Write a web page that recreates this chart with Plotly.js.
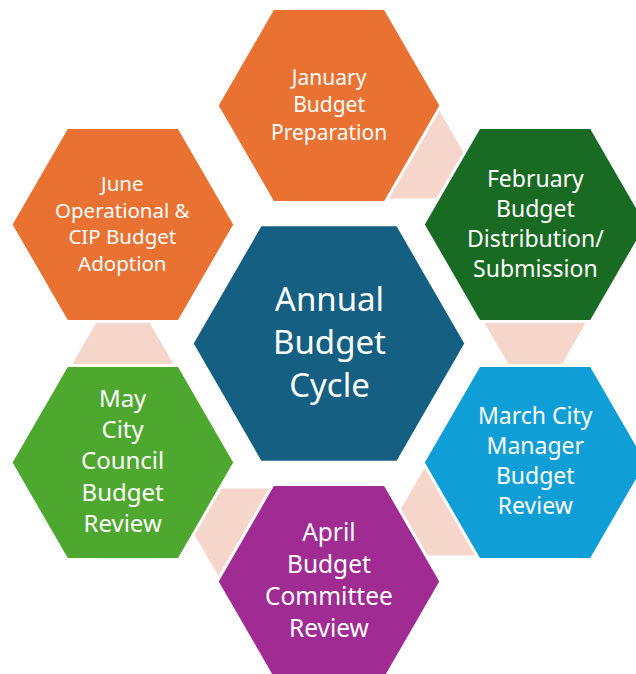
<!DOCTYPE html>
<html>
<head>
<meta charset="utf-8">
<script src="https://cdn.plot.ly/plotly-3.0.1.min.js"></script>
<style>html,body{margin:0;padding:0;background:#fff;}#chart{width:636px;height:674px;}</style>
</head>
<body>
<div id="chart"></div>
<script>
// ---- data ----
const centerLines = ['Annual', 'Budget', 'Cycle'];
const stepMonths = ['January', 'February', 'March', 'April', 'May', 'June'];
const stepLines = [
  ['January', 'Budget', 'Preparation'],
  ['February', 'Budget', 'Distribution/', 'Submission'],
  ['March City', 'Manager', 'Budget', 'Review'],
  ['April', 'Budget', 'Committee', 'Review'],
  ['May', 'City', 'Council', 'Budget', 'Review'],
  ['June', 'Operational &', 'CIP Budget', 'Adoption']
];
// transitions drawn between consecutive steps (clockwise), from -> to
const transitions = [[0, 1], [1, 2], [2, 3], [3, 4], [4, 5]];

// ---- styles / geometry ----
const stepColors = ['#E97132', '#196B24', '#0F9ED5', '#A02B93', '#4EA72E', '#E97132'];
const centerColor = '#156082';
const linkColor = '#F6D5CB';
const stepFont = [21, 23, 23, 24.5, 24, 20.5];
const stepShift = [-1.5, -1.5, -2.5, -2, -3, -2];
const centerFont = 33;
const W = 636, H = 674;
const C = [329, 343.5];
const ringDist = 238;
const stepAngles = [90, 30, -30, -90, -150, 150];
const stepR = 112, centerR = 137, border = 3;
const apexDist = 186, baseDist = 20;

function hexPath(cx, cy, r) {
  const xs = [], ys = [];
  for (let k = 0; k <= 6; k++) {
    const a = Math.PI / 3 * k;
    xs.push(cx + r * Math.cos(a));
    ys.push(cy + r * Math.sin(a));
  }
  return [xs, ys];
}
const centers = stepAngles.map(a => [C[0] + ringDist * Math.cos(a * Math.PI / 180), C[1] - ringDist * Math.sin(a * Math.PI / 180)]);

const traces = [];
// transition connectors (behind)
transitions.forEach(([i, j]) => {
  const A = centers[i], B = centers[j];
  const dx = B[0] - A[0], dy = B[1] - A[1];
  const L = Math.hypot(dx, dy);
  const ux = dx / L, uy = dy / L, px = -uy, py = ux;
  const t = Math.tan(Math.PI / 6);
  const apex = [A[0] + ux * apexDist, A[1] + uy * apexDist];
  const hw = t * (apexDist - baseDist);
  const b0 = [A[0] + ux * baseDist, A[1] + uy * baseDist];
  const xs = [apex[0], b0[0] + px * hw, b0[0] - px * hw, apex[0]];
  const ys = [apex[1], b0[1] + py * hw, b0[1] - py * hw, apex[1]];
  traces.push({type: 'scatter', mode: 'lines', x: xs, y: ys, fill: 'toself', fillcolor: linkColor,
    line: {width: 0, color: linkColor}, hoverinfo: 'skip', showlegend: false});
});
// outer steps
stepMonths.forEach((m, i) => {
  const [xs, ys] = hexPath(centers[i][0], centers[i][1], stepR);
  traces.push({type: 'scatter', mode: 'lines', x: xs, y: ys, fill: 'toself', fillcolor: stepColors[i],
    line: {width: border, color: '#ffffff'}, name: m, hoverinfo: 'skip', showlegend: false});
});
// center
{
  const [xs, ys] = hexPath(C[0], C[1], centerR);
  traces.push({type: 'scatter', mode: 'lines', x: xs, y: ys, fill: 'toself', fillcolor: centerColor,
    line: {width: border, color: '#ffffff'}, hoverinfo: 'skip', showlegend: false});
}

const annotations = [];
function addBlock(lines, cx, cy, size) {
  annotations.push({x: cx, y: cy, xref: 'x', yref: 'y', text: lines.join('<br>'),
    showarrow: false, xanchor: 'center', yanchor: 'middle', align: 'center',
    font: {family: 'Noto Sans, Open Sans, sans-serif', size: size, color: '#ffffff'}});
}
stepLines.forEach((lines, i) => addBlock(lines, centers[i][0], centers[i][1] + stepShift[i], stepFont[i]));
addBlock(centerLines, C[0], C[1] - 2, centerFont);

const layout = {
  width: W, height: H,
  margin: {l: 0, r: 0, t: 0, b: 0},
  paper_bgcolor: '#ffffff', plot_bgcolor: '#ffffff',
  xaxis: {range: [0, W], visible: false, fixedrange: true},
  yaxis: {range: [H, 0], visible: false, fixedrange: true},
  annotations: annotations,
  showlegend: false
};
Plotly.newPlot('chart', traces, layout, {staticPlot: true, displayModeBar: false});
</script>
</body>
</html>
